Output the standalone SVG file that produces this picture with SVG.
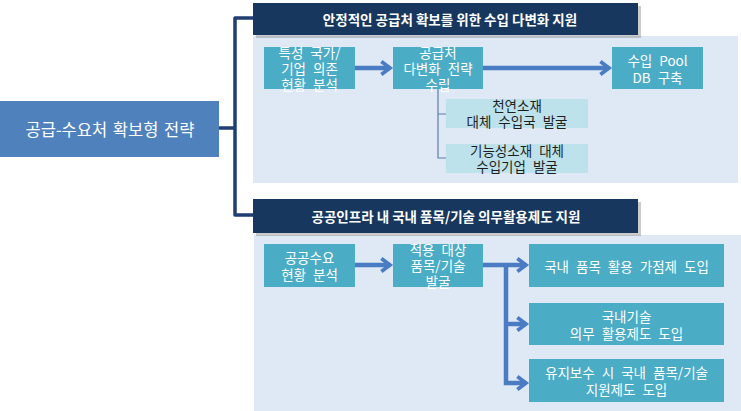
<svg xmlns="http://www.w3.org/2000/svg" width="741" height="411" viewBox="0 0 741 411">
<defs>
<style>
.panel{fill:#DFE8F5}
.hdr{fill:#17375E}
.shadow{fill:#8C8C8C;opacity:0.45}
.box{fill:#4BACC6}
.sub{fill:#BDE2EC}
.t{font-family:"Noto Sans CJK KR","Liberation Sans",sans-serif;text-anchor:middle;dominant-baseline:central}
.wt{fill:#FFFFFF;font-size:13.5px;word-spacing:4px}
.dk{fill:#1F1F1F;font-size:13.5px;word-spacing:4px}
.ht{fill:#FFFFFF;font-size:13.5px;font-weight:bold}
.tree{fill:none;stroke:#1F3F73;stroke-width:3.5;stroke-linejoin:round}
.arr{fill:none;stroke:#4A7CC4;stroke-width:4.5}
.thin{fill:none;stroke:#5B7DAA;stroke-width:1.2}
</style>
<marker id="ah" viewBox="0 0 10 10" refX="7" refY="5" markerWidth="3.2" markerHeight="4" markerUnits="strokeWidth" orient="auto">
<path d="M1,0.5 L7,5 L1,9.5" fill="none" stroke="#4A7CC4" stroke-width="2.6"/>
</marker>
</defs>

<g id="panels">
<rect class="panel" x="253" y="36" width="485" height="147"/>
<rect class="panel" x="254" y="235" width="487" height="176"/>
</g>

<g id="connectors">
<path class="tree" d="M219,128 H235"/>
<path class="tree" d="M254,18 H235 V215 H254"/>
<path class="arr" d="M355,68 H390" marker-end="url(#ah)"/>
<path class="arr" d="M483,68 H609" marker-end="url(#ah)"/>
<path class="thin" d="M438,89 V158 H446 M438,114 H446"/>
<path class="arr" d="M355,265 H390" marker-end="url(#ah)"/>
<path class="arr" d="M483,265 H526" marker-end="url(#ah)"/>
<path class="arr" d="M506,265 V383 H526" marker-end="url(#ah)"/>
<path class="arr" d="M506,324 H526" marker-end="url(#ah)"/>
</g>

<g id="root">
<rect x="0" y="101" width="219" height="56" fill="#4F81BD"/>
<text class="t" x="110" y="129" fill="#FFFFFF" font-size="16.5" word-spacing="2">공급-수요처 확보형 전략</text>
</g>

<g id="header1">
<rect class="shadow" x="256" y="6" width="385" height="32"/>
<rect class="hdr" x="253" y="3" width="385" height="32"/>
<text class="t ht" x="450" y="19">안정적인 공급처 확보를 위한 수입 다변화 지원</text>
</g>

<g id="header2">
<rect class="shadow" x="256" y="202" width="385" height="34"/>
<rect class="hdr" x="253" y="199" width="385" height="34"/>
<text class="t ht" x="446" y="216">공공인프라 내 국내 품목/기술 의무활용제도 지원</text>
</g>

<g id="n1">
<rect class="box" x="264" y="47" width="91" height="42"/>
<text class="t wt" x="309.5" y="52">특성 국가/</text>
<text class="t wt" x="309.5" y="68">기업 의존</text>
<text class="t wt" x="309.5" y="84">현황 분석</text>
</g>

<g id="n2">
<rect class="box" x="393" y="47" width="90" height="42"/>
<text class="t wt" x="438" y="52">공급처</text>
<text class="t wt" x="438" y="68">다변화 전략</text>
<text class="t wt" x="438" y="84">수립</text>
</g>

<g id="n3">
<rect class="box" x="612" y="47" width="91" height="42"/>
<text class="t wt" x="657.5" y="60">수입 Pool</text>
<text class="t wt" x="657.5" y="77">DB 구축</text>
</g>

<g id="n4">
<rect class="sub" x="446" y="99" width="142" height="29"/>
<text class="t dk" x="517" y="105">천연소재</text>
<text class="t dk" x="517" y="121">대체 수입국 발굴</text>
</g>

<g id="n5">
<rect class="sub" x="446" y="144" width="142" height="29"/>
<text class="t dk" x="517" y="150">기능성소재 대체</text>
<text class="t dk" x="517" y="166">수입기업 발굴</text>
</g>

<g id="m1">
<rect class="box" x="264" y="244" width="91" height="43"/>
<text class="t wt" x="309.5" y="257">공공수요</text>
<text class="t wt" x="309.5" y="274">현황 분석</text>
</g>

<g id="m2">
<rect class="box" x="393" y="244" width="90" height="43"/>
<text class="t wt" x="438" y="249">적용 대상</text>
<text class="t wt" x="438" y="265">품목/기술</text>
<text class="t wt" x="438" y="281">발굴</text>
</g>

<g id="m3">
<rect class="box" x="529" y="244" width="195" height="43"/>
<text class="t wt" x="626.5" y="266">국내 품목 활용 가점제 도입</text>
</g>

<g id="m4">
<rect class="box" x="529" y="303" width="195" height="42"/>
<text class="t wt" x="626.5" y="316">국내기술</text>
<text class="t wt" x="626.5" y="333">의무 활용제도 도입</text>
</g>

<g id="m5">
<rect class="box" x="529" y="359" width="195" height="43"/>
<text class="t wt" x="626.5" y="372">유지보수 시 국내 품목/기술</text>
<text class="t wt" x="626.5" y="389">지원제도 도입</text>
</g>
</svg>
